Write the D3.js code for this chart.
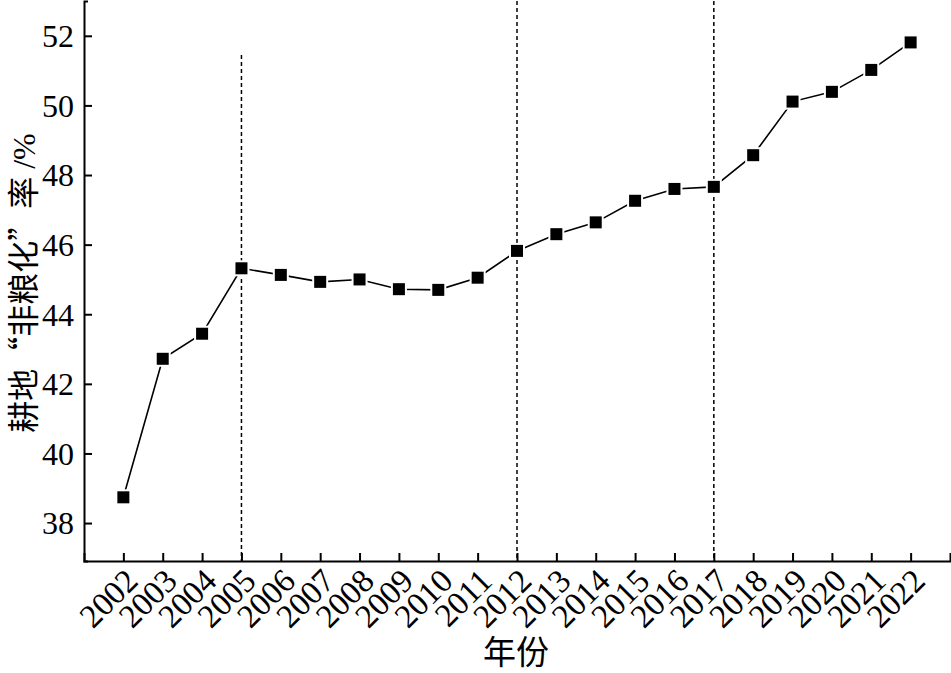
<!DOCTYPE html>
<html><head><meta charset="utf-8">
<script src="https://cdn.jsdelivr.net/npm/d3@7/dist/d3.min.js"></script>
<style>
html,body{margin:0;padding:0;background:#fff;}
svg{display:block;}
text{font-family:"Liberation Serif","Noto Sans CJK SC",serif;fill:#000;}
.cjk{font-family:"Noto Sans CJK SC",sans-serif;font-feature-settings:"fwid" 1;}
</style></head>
<body>
<script>
const years = [2002,2003,2004,2005,2006,2007,2008,2009,2010,2011,2012,2013,2014,2015,2016,2017,2018,2019,2020,2021,2022];
const rates = [38.74,42.72,43.44,45.32,45.13,44.93,45.00,44.72,44.70,45.05,45.82,46.30,46.64,47.26,47.60,47.66,48.57,50.11,50.39,51.02,51.81];
const yTicks = [38,40,42,44,46,48,50,52];
const markerYears = [2005,2012,2017];
const markerTops = [51.45,53.0,53.0];
const yLabelParts = [["耕地“非粮化”率","cjk"],[" /%","lat"]];
const xLabel = "年份";

const W=951,H=673;
const svg=d3.select("body").append("svg").attr("width",W).attr("height",H);
const x=d3.scaleLinear().domain([2001,2023]).range([84,950]);
const y=d3.scaleLinear().domain([36.91,53.0]).range([561,1]);

// dashed vertical lines
svg.append("g").selectAll("line").data(markerYears).join("line")
  .attr("x1",d=>x(d)).attr("x2",d=>x(d))
  .attr("y1",(d,i)=>y(markerTops[i])).attr("y2",y(36.91))
  .attr("stroke","#000").attr("stroke-width",1.5).attr("stroke-dasharray","4,3");

// axes
const xAxis=d3.axisBottom(x).tickValues(years).tickSize(-8).tickSizeOuter(-8).tickFormat(d3.format("d"));
const gx=svg.append("g").attr("transform",`translate(0,${y(36.91)})`).call(xAxis);
gx.selectAll("path,line").attr("stroke","#000").attr("stroke-width",2);
gx.selectAll("text").attr("font-size",33).attr("text-anchor","end")
  .attr("transform","translate(-1,5) rotate(-45)").attr("dy","0.72em").attr("y",0).attr("x",0);

const yAxis=d3.axisLeft(y).tickValues(yTicks).tickSize(-8).tickSizeOuter(-4).tickFormat(d3.format("d"));
const gy=svg.append("g").attr("transform",`translate(${x(2001)},0)`).call(yAxis);
gy.selectAll("path,line").attr("stroke","#000").attr("stroke-width",2);
gy.selectAll("text").attr("font-size",32).attr("x",-10).attr("dy","0.34em");

// line
const data=years.map((d,i)=>({year:d,v:rates[i]}));
svg.append("path").datum(data)
  .attr("fill","none").attr("stroke","#000").attr("stroke-width",1.6)
  .attr("d",d3.line().x(d=>x(d.year)).y(d=>y(d.v)));

// markers
const s=12;
svg.append("g").selectAll("rect.bg").data(data).join("rect")
  .attr("x",d=>x(d.year)-s/2-2).attr("y",d=>y(d.v)-s/2-2)
  .attr("width",s+4).attr("height",s+4).attr("fill","#fff");
svg.append("g").selectAll("rect.fg").data(data).join("rect")
  .attr("x",d=>x(d.year)-s/2).attr("y",d=>y(d.v)-s/2)
  .attr("width",s).attr("height",s).attr("fill","#000");

// labels
svg.append("text").attr("class","cjk").attr("x",516).attr("y",664).attr("text-anchor","middle")
  .attr("font-size",33).text(xLabel);
const yl=svg.append("text").attr("transform","translate(35,283) rotate(-90)")
  .attr("text-anchor","middle").attr("font-size",32);
yl.selectAll("tspan").data(yLabelParts).join("tspan")
  .attr("class",d=>d[1]==="cjk"?"cjk":null).text(d=>d[0]);
</script>
</body></html>
